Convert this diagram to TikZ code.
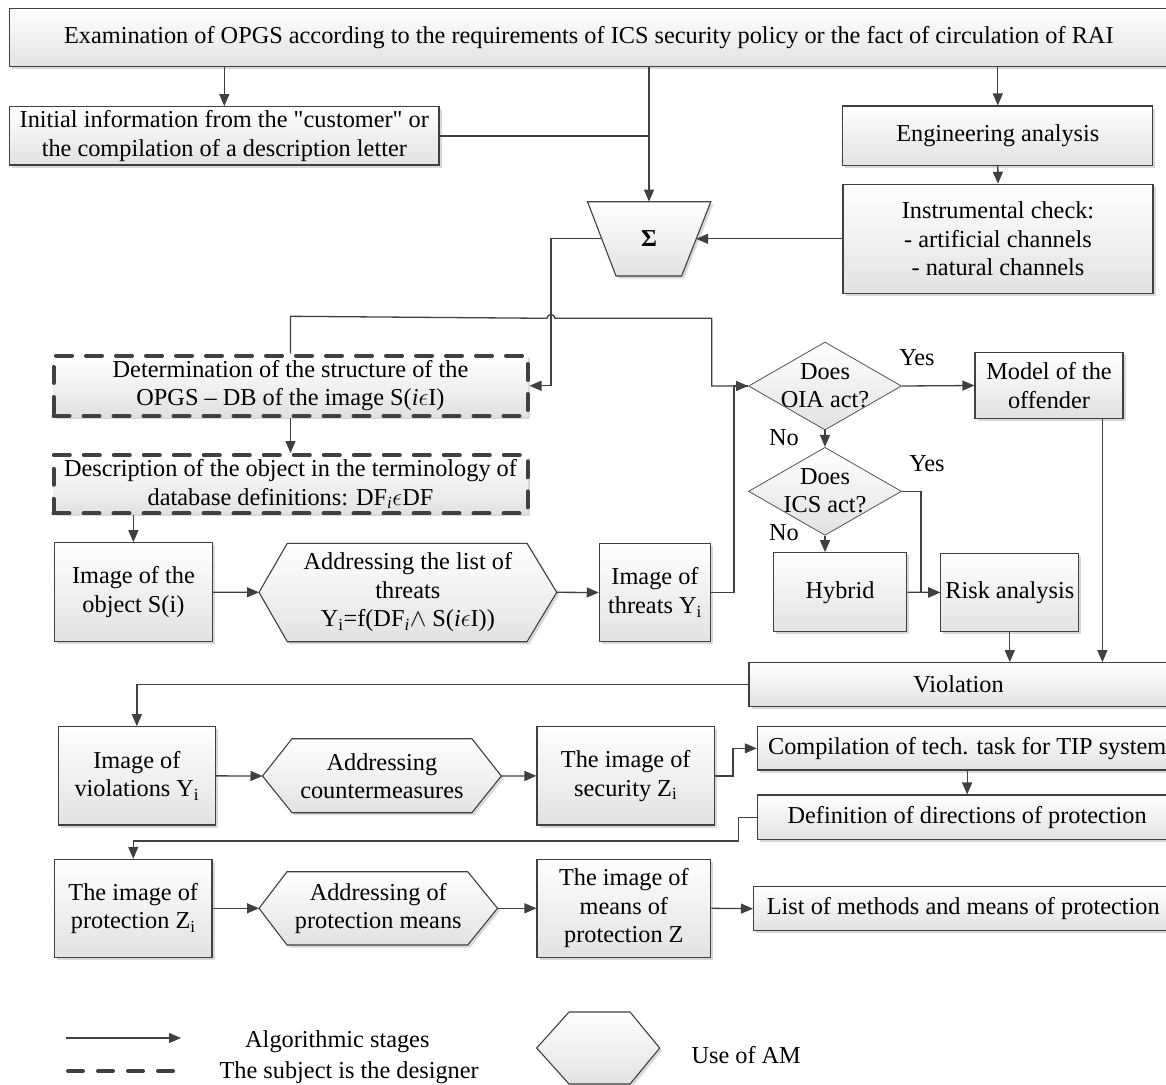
\documentclass[tikz,border=0pt]{standalone}
\usepackage{fontspec}
\setmainfont{Liberation Serif}[Ligatures=TeXOff]
\usetikzlibrary{arrows.meta,shapes.geometric,shadows}
\definecolor{ln}{HTML}{404040}
\definecolor{fillbot}{HTML}{E2E2E2}
\begin{document}
\begin{tikzpicture}[x=1pt,y=-1pt,
  every node/.style={font=\fontsize{24.3}{28.5}\selectfont,text=black},
  shadowed/.style={drop shadow={shadow xshift=2.5pt,shadow yshift=-2.5pt,opacity=0.3,fill=gray}},
  grad/.style={top color=white,bottom color=fillbot},
  box/.style={draw=ln,line width=1.1pt,grad,shadowed,align=center,inner sep=0pt},
  dbox/.style={draw=ln,line width=4pt,dash pattern=on 16pt off 14pt,line cap=round,grad,shadowed,align=center,inner sep=0pt},
  hexa/.style={draw=ln,line width=1.1pt,grad,shadowed},
  dia/.style={diamond,draw=ln!90,line width=0.8pt,grad,inner sep=0pt,minimum width=153pt,minimum height=88pt},
  conn/.style={draw=ln,line width=1.3pt},
  arr/.style={conn,-{Triangle[length=12pt,width=10pt]}},
  dline/.style={draw=ln,line width=4pt,dash pattern=on 15pt off 15pt,line cap=round},
  txt/.style={align=center,inner sep=0pt},
  lbl/.style={anchor=base,inner sep=0pt},
  lblw/.style={anchor=base west,inner sep=0pt}
]
\useasboundingbox (0,0) rectangle (1166,1084);

% ---------- top part ----------
\node[box,minimum width=1158.4pt,minimum height=58.4pt] (top) at (588.8,37.5)
  {Examination of OPGS according to the requirements of ICS security policy or the fact of circulation of RAI};
\node[box,minimum width=429.4pt,minimum height=58.3pt] (initial) at (224.3,135.85)
  {Initial information from the "customer" or\\the compilation of a description letter};
\node[box,minimum width=310.2pt,minimum height=59.3pt] (eng) at (997.8,135.65) {Engineering analysis};
\node[box,minimum width=310pt,minimum height=109pt] (instr) at (998,238.8)
  {Instrumental check:\\- artificial channels\\- natural channels};

% Sigma trapezoid
\path[hexa] (587.5,201.7) -- (710.8,201.7) -- (681.6,276) -- (616,276) -- cycle;
\node[txt] (sig) at (649,239) {\textbf{Σ}};
\coordinate (sigT) at (649,201.7);
\coordinate (sigL) at (601.8,238.8);
\coordinate (sigR) at (696.1,238.8);

% ---------- dashed boxes ----------
\node[dbox,minimum width=474pt,minimum height=60.5pt] (db1) at (290.5,385.75)
  {Determination of the structure of the\\OPGS – DB of the image S(\textit{i}$\epsilon$I)};
\node[dbox,minimum width=474pt,minimum height=58.3pt] (db2) at (290.5,484.2)
  {Description of the object in the terminology of\\database definitions: DF\textsubscript{\textit{i}}$\epsilon$DF};

% ---------- row of threats ----------
\node[box,minimum width=157.9pt,minimum height=99pt] (imgobj) at (133.4,592.2) {Image of the\\object S(i)};
\path[hexa] (259,592.3) coordinate (h1L) -- (287.3,543.3) -- (527,543.3) -- (556.7,592.3) coordinate (h1R)
  -- (527,641.7) -- (287.3,641.7) -- cycle;
\node[txt] (h1t) at (407.85,592.3)
  {Addressing the list of\\threats\\Y\textsubscript{i}=f(DF\textsubscript{\textit{i}}$\wedge$ S(\textit{i}$\epsilon$I))};
\node[box,minimum width=111.4pt,minimum height=98.4pt] (threats) at (655,592.5) {Image of\\threats Y\textsubscript{i}};

% ---------- decisions ----------
\node[dia] (d1) at (825,386) {};
\node[txt] (d1t) at (825,385.5) {Does\\OIA act?};
\node[dia] (d2) at (825,491.3) {};
\node[txt] (d2t) at (825,490.8) {Does\\ICS act?};
\node[lbl] (yes1) at (917,365) {Yes};
\node[lbl] (no1) at (784,445) {No};
\node[lbl] (yes2) at (927,471) {Yes};
\node[lbl] (no2) at (784,540) {No};
\node[box,minimum width=148pt,minimum height=65.6pt] (model) at (1049,385.5) {Model of the\\offender};
\node[box,minimum width=133.4pt,minimum height=79pt] (hybrid) at (840,592.2) {Hybrid};
\node[box,minimum width=138.2pt,minimum height=78.4pt] (risk) at (1009.8,592.5) {Risk analysis};

% ---------- violations ----------
\node[box,minimum width=419pt,minimum height=44pt] (viol) at (958.5,684.7) {Violation};
\node[box,minimum width=157.3pt,minimum height=98.3pt] (imgviol) at (136.85,775.85) {Image of\\violations Y\textsubscript{i}};
\path[hexa] (262.5,776) coordinate (h2L) -- (292,738.7) -- (471.9,738.7) -- (501.3,776) coordinate (h2R)
  -- (471.9,812.7) -- (292,812.7) -- cycle;
\node[txt] (h2t) at (381.9,776) {Addressing\\countermeasures};
\node[box,minimum width=177.5pt,minimum height=98.3pt] (secur) at (625.75,775.85) {The image of\\security Z\textsubscript{i}};
\node[box,minimum width=419.7pt,minimum height=43.3pt] (comp) at (967.15,748.35) {Compilation of tech. task for TIP system};
\node[box,minimum width=419.7pt,minimum height=44.3pt] (defn) at (967.15,817.15) {Definition of directions of protection};

% ---------- protection ----------
\node[box,minimum width=157.5pt,minimum height=98pt] (prot) at (133.25,908.3) {The image of\\protection Z\textsubscript{i}};
\path[hexa] (259,908.3) coordinate (h3L) -- (287,871.7) -- (467.7,871.7) -- (497.5,908.3) coordinate (h3R)
  -- (467.7,945) -- (287,945) -- cycle;
\node[txt] (h3t) at (378.25,908.3) {Addressing of\\protection means};
\node[box,minimum width=173.7pt,minimum height=98pt] (means) at (623.85,908.3) {The image of\\means of\\protection Z};
\node[box,minimum width=419.5pt,minimum height=44pt] (list) at (963.25,908.7) {List of methods and means of protection};

% ---------- connectors ----------
\draw[arr] (initial.north |- top.south) -- (initial.north);
\draw[arr] (sigT |- top.south) -- (sigT);
\draw[conn] (initial.east) -- (initial.east -| sigT);
\draw[arr] (eng.north |- top.south) -- (eng.north);
\draw[arr] (eng.south) -- (instr.north);
\draw[arr] (instr.west) -- (sigR);
\draw[arr] (sigL) -- ++(-50.8,0) |- (db1.east);
\draw[arr] (db1.north) -- ++(0,-37.2) -- (547,318.3) .. controls (547,313.3) and (555,313.3) .. (555,318.3)
  -- (711.7,318.3) |- (d1.west);
\draw[conn] (threats.east) -- ++(22.6,0) |- (d1.west);
\draw[arr] (db1.south) -- (db2.north);
\draw[arr] (db2.south -| imgobj.north) -- (imgobj.north);
\draw[arr] (imgobj.east) -- (h1L);
\draw[arr] (h1R) -- (threats.west);
\draw[arr] (d1.east) -- (model.west);
\draw[arr] (d1.south) -- (d2.north);
\draw[arr] (d2.south) -- (d2.south |- hybrid.north);
\draw[arr] (hybrid.east) -- (risk.west);
\draw[arr] (d2.east) -- ++(19,0) |- (risk.west);
\draw[arr] (risk.south) -- (risk.south |- viol.north);
\draw[arr] ([xshift=53.4pt]model.south) -- ([xshift=53.4pt]model.south |- viol.north);
\draw[arr] (viol.west) -| (imgviol.north);
\draw[arr] (imgviol.east) -- (h2L);
\draw[arr] (h2R) -- (secur.west);
\draw[arr] (secur.east) -- ++(18,0) |- (comp.west);
\draw[arr] (comp.south) -- (defn.north);
\draw[arr] (defn.west) -- ++(-18.3,0) -- ++(0,23.7) -| (prot.north);
\draw[arr] (prot.east) -- (h3L);
\draw[arr] (h3R) -- (means.west);
\draw[arr] (means.east) -- (list.west);

% ---------- legend ----------
\coordinate (la1) at (66,1038);
\coordinate (la2) at (181,1038);
\draw[arr] (la1) -- (la2);
\node[lblw] (lt1) at (245,1047) {Algorithmic stages};
\coordinate (ld1) at (68,1071);
\coordinate (ld2) at (179,1071);
\draw[dline] (ld1) -- (ld2);
\node[lblw] (lt2) at (219.4,1078) {The subject is the designer};
\path[hexa] (536.7,1048) coordinate (lhL) -- (569,1012) -- (630,1012) -- (659.7,1048)
  -- (630,1084) -- (569,1084) -- cycle;
\node[lblw] (lt3) at (691.3,1063) {Use of AM};
\end{tikzpicture}
\end{document}
